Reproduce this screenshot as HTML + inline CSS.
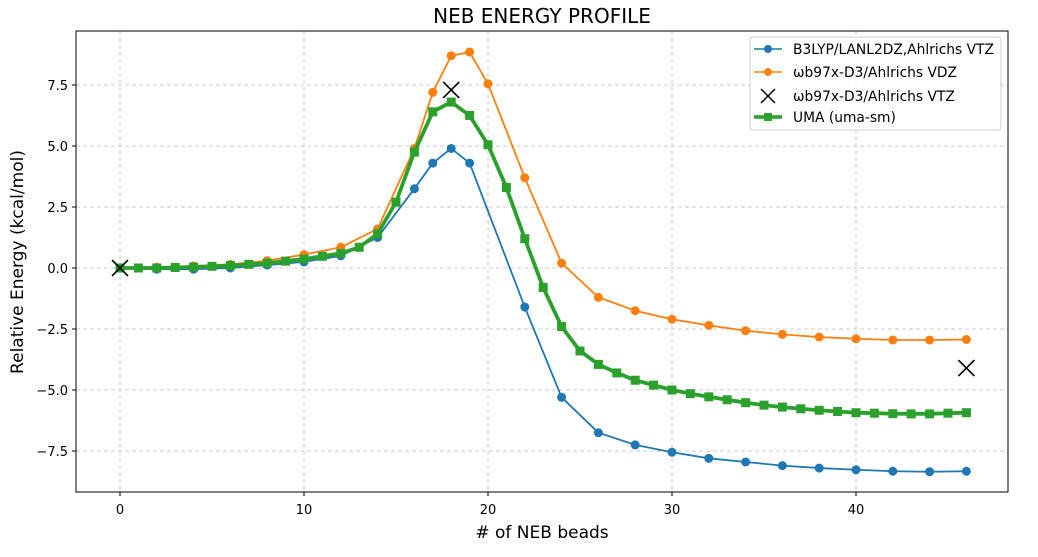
<!DOCTYPE html>
<html><head><meta charset="utf-8"><style>
body{margin:0;background:#fff}
svg text{font-family:"DejaVu Sans","Liberation Sans",sans-serif}
</style></head><body>
<svg id="chart" width="1038" height="552" xmlns="http://www.w3.org/2000/svg">
<rect width="1038" height="552" fill="#fff"/>
<g id="grid"></g>
<g id="series"></g>
<rect x="76" y="31" width="932" height="461" fill="none" stroke="#000" stroke-width="1"/>
<g id="ticks"></g>
<text x="542" y="23" text-anchor="middle" font-size="20">NEB ENERGY PROFILE</text>
<text x="542" y="538" text-anchor="middle" font-size="17"># of NEB beads</text>
<text transform="translate(23,262) rotate(-90)" text-anchor="middle" font-size="17">Relative Energy (kcal/mol)</text>
<g>
<rect x="750" y="37" width="251" height="93" rx="3" fill="#fff" fill-opacity="0.85" stroke="#ccc"/>
<g><line x1="754" y1="49" x2="782" y2="49" stroke="#1f77b4" stroke-width="1.5"/><circle cx="768" cy="49" r="4" fill="#1f77b4"/><text x="793" y="54" font-size="13.8">B3LYP/LANL2DZ,Ahlrichs VTZ</text></g>
<g><line x1="754" y1="72" x2="782" y2="72" stroke="#ff7f0e" stroke-width="1.5"/><circle cx="768" cy="72" r="4" fill="#ff7f0e"/><text x="793" y="77" font-size="13.8">ωb97x-D3/Ahlrichs VDZ</text></g>
<g><path d="M761 89 L775 103 M775 89 L761 103" stroke="#000" stroke-width="1.5"/><text x="793" y="101" font-size="13.8">ωb97x-D3/Ahlrichs VTZ</text></g>
<g><line x1="754" y1="117" x2="782" y2="117" stroke="#2ca02c" stroke-width="3.5"/><rect x="764" y="113" width="8" height="8" fill="#2ca02c"/><text x="793" y="122" font-size="13.8">UMA (uma-sm)</text></g>
</g>
</svg>
<script>
const blueX=[0,2,4,6,8,10,12,14,16,17,18,19,22,24,26,28,30,32,34,36,38,40,42,44,46];
const blueY=[0,-0.05,-0.05,0,0.12,0.25,0.5,1.25,3.25,4.3,4.9,4.3,-1.6,-5.3,-6.75,-7.25,-7.55,-7.8,-7.95,-8.1,-8.2,-8.27,-8.33,-8.35,-8.33];
const orangeX=[0,2,4,6,8,10,12,14,16,17,18,19,20,22,24,26,28,30,32,34,36,38,40,42,44,46];
const orangeY=[0,0.03,0.08,0.15,0.3,0.55,0.85,1.6,4.9,7.2,8.7,8.85,7.55,3.7,0.2,-1.2,-1.75,-2.1,-2.35,-2.57,-2.72,-2.83,-2.9,-2.95,-2.95,-2.93];
const greenY=[0,0,0,0.02,0.04,0.07,0.1,0.15,0.2,0.28,0.37,0.48,0.6,0.85,1.4,2.7,4.75,6.4,6.8,6.25,5.05,3.3,1.2,-0.8,-2.4,-3.4,-3.95,-4.3,-4.6,-4.8,-5.0,-5.15,-5.28,-5.4,-5.52,-5.62,-5.7,-5.77,-5.83,-5.88,-5.93,-5.95,-5.97,-5.98,-5.98,-5.95,-5.93];
const crossX=[0,18,46];
const crossY=[0,7.3,-4.1];
const xTicks=[0,10,20,30,40];
const yTicks=[-7.5,-5.0,-2.5,0.0,2.5,5.0,7.5];
const NS="http://www.w3.org/2000/svg";
const sx=v=>120+v*18.4;
const sy=v=>268-v*24.4;
function mk(tag,attrs,parent){const e=document.createElementNS(NS,tag);for(const k in attrs)e.setAttribute(k,attrs[k]);parent.appendChild(e);return e;}
const grid=document.getElementById('grid'),ticks=document.getElementById('ticks'),ser=document.getElementById('series');
xTicks.forEach(t=>{
 const l=mk('line',{x1:sx(t),x2:sx(t),y1:31,y2:492,stroke:'#ccc','stroke-dasharray':'4,3'},grid);
 
 
 mk('line',{x1:sx(t),x2:sx(t),y1:492,y2:496,stroke:'#000'},ticks);
 const tx=mk('text',{x:sx(t),y:514,'text-anchor':'middle','font-size':'13'},ticks);tx.textContent=t;
 
 
});
yTicks.forEach(t=>{
 const l=mk('line',{y1:sy(t),y2:sy(t),x1:76,x2:1008,stroke:'#ccc','stroke-dasharray':'4,3'},grid);
 
 
 mk('line',{y1:sy(t),y2:sy(t),x1:72,x2:76,stroke:'#000'},ticks);
 const tx=mk('text',{x:68,y:sy(t)+5,'text-anchor':'end','font-size':'13'},ticks);tx.textContent=(t<0?'\u2212':'')+Math.abs(t).toFixed(1);
 
 
});
function line(xs,ys,color,w,name){
 const g=mk('g',{},ser);
 
 
 mk('polyline',{points:xs.map((x,i)=>sx(x)+','+sy(ys[i])).join(' '),fill:'none',stroke:color,'stroke-width':w,'stroke-linejoin':'round'},g);
 return g;
}
const gb=line(blueX,blueY,'#1f77b4',1.8,'series-b3lyp');
blueX.forEach((x,i)=>{const c=mk('circle',{cx:sx(x),cy:sy(blueY[i]),r:4.5,fill:'#1f77b4'},gb);});
const go=line(orangeX,orangeY,'#ff7f0e',1.8,'series-wb97x-vdz');
orangeX.forEach((x,i)=>{const c=mk('circle',{cx:sx(x),cy:sy(orangeY[i]),r:4.5,fill:'#ff7f0e'},go);});
const greenX=greenY.map((_,i)=>i);
const gg=line(greenX,greenY,'#2ca02c',3.8,'series-uma');
greenX.forEach((x,i)=>{const r=mk('rect',{x:sx(x)-4.5,y:sy(greenY[i])-4.5,width:9,height:9,fill:'#2ca02c'},gg);});
crossX.forEach((x,i)=>{const X=sx(x),Y=sy(crossY[i]);const p=mk('path',{d:`M${X-8} ${Y-8} L${X+8} ${Y+8} M${X+8} ${Y-8} L${X-8} ${Y+8}`,stroke:'#000','stroke-width':1.6},ser);});
</script>
</body></html>
